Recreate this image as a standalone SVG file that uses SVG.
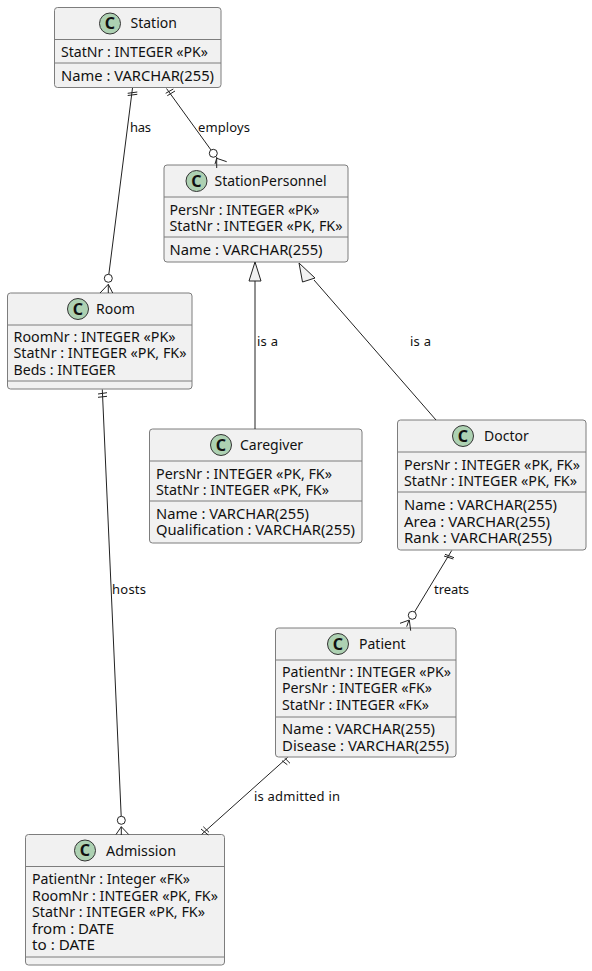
<svg xmlns="http://www.w3.org/2000/svg" width="592" height="971" viewBox="0 0 592 971">
<style>
text{font-family:"Noto Sans","Open Sans","DejaVu Sans",sans-serif;fill:#111}
.box{fill:#f1f1f1;stroke:#7d7d7d;stroke-width:1}
.sep{stroke:#7d7d7d;stroke-width:1}
.spot{fill:#add1b2;stroke:#333;stroke-width:1}
.c{font-size:16px;font-weight:700;text-anchor:middle}
.t{font-size:14px}
.f{font-size:14px}
.l{font-size:13px}
.cn{fill:none;stroke:#222;stroke-width:1}
.o{fill:#fff;stroke:#222;stroke-width:1}
.h{fill:#f1f1f1;stroke:#222;stroke-width:1}
</style>
<rect width="592" height="971" fill="#fff"/>
<g id="Station">
<rect class="box" x="54.500" y="7.500" width="166.500" height="80" rx="3"/>
<path class="sep" d="M54.500 39.500H221M54.500 63H221"/>
<circle class="spot" cx="110" cy="23.500" r="10.500"/>
<text class="c" x="110" y="29">C</text>
<text class="t" x="130.500" y="28">Station</text>
<text class="f" x="61" y="57" textLength="147" lengthAdjust="spacingAndGlyphs">StatNr : INTEGER «PK»</text>
<text class="f" x="61" y="81" textLength="153" lengthAdjust="spacingAndGlyphs">Name : VARCHAR(255)</text>
</g>
<g id="StationPersonnel">
<rect class="box" x="164" y="165" width="184" height="97" rx="3"/>
<path class="sep" d="M164 197H348M164 237H348"/>
<circle class="spot" cx="196.500" cy="181" r="10.500"/>
<text class="c" x="196.500" y="186.500">C</text>
<text class="t" x="214.500" y="186" textLength="112" lengthAdjust="spacingAndGlyphs">StationPersonnel</text>
<text class="f" x="169.500" y="215" textLength="150" lengthAdjust="spacingAndGlyphs">PersNr : INTEGER «PK»</text>
<text class="f" x="169.500" y="231" textLength="173" lengthAdjust="spacingAndGlyphs">StatNr : INTEGER «PK, FK»</text>
<text class="f" x="169.500" y="255" textLength="153" lengthAdjust="spacingAndGlyphs">Name : VARCHAR(255)</text>
</g>
<g id="Room">
<rect class="box" x="7.500" y="293" width="184.500" height="96" rx="3"/>
<path class="sep" d="M7.500 325H192M7.500 381H192"/>
<circle class="spot" cx="78" cy="309" r="10.500"/>
<text class="c" x="78" y="314.500">C</text>
<text class="t" x="96" y="314">Room</text>
<text class="f" x="13.500" y="342" textLength="162" lengthAdjust="spacingAndGlyphs">RoomNr : INTEGER «PK»</text>
<text class="f" x="13.500" y="358" textLength="173" lengthAdjust="spacingAndGlyphs">StatNr : INTEGER «PK, FK»</text>
<text class="f" x="13.500" y="375" textLength="102" lengthAdjust="spacingAndGlyphs">Beds : INTEGER</text>
</g>
<g id="Caregiver">
<rect class="box" x="149.500" y="429" width="212.500" height="114" rx="3"/>
<path class="sep" d="M149.500 461H362M149.500 501H362"/>
<circle class="spot" cx="221" cy="445" r="10.500"/>
<text class="c" x="221" y="450.500">C</text>
<text class="t" x="240" y="450">Caregiver</text>
<text class="f" x="156" y="479" textLength="176" lengthAdjust="spacingAndGlyphs">PersNr : INTEGER «PK, FK»</text>
<text class="f" x="156" y="495" textLength="173" lengthAdjust="spacingAndGlyphs">StatNr : INTEGER «PK, FK»</text>
<text class="f" x="156" y="519" textLength="153" lengthAdjust="spacingAndGlyphs">Name : VARCHAR(255)</text>
<text class="f" x="156" y="535" textLength="199" lengthAdjust="spacingAndGlyphs">Qualification : VARCHAR(255)</text>
</g>
<g id="Doctor">
<rect class="box" x="397.500" y="420" width="188.500" height="130" rx="3"/>
<path class="sep" d="M397.500 452H586M397.500 492H586"/>
<circle class="spot" cx="463" cy="436" r="10.500"/>
<text class="c" x="463" y="441.500">C</text>
<text class="t" x="484" y="441">Doctor</text>
<text class="f" x="404" y="470" textLength="176" lengthAdjust="spacingAndGlyphs">PersNr : INTEGER «PK, FK»</text>
<text class="f" x="404" y="486" textLength="173" lengthAdjust="spacingAndGlyphs">StatNr : INTEGER «PK, FK»</text>
<text class="f" x="404" y="510" textLength="153" lengthAdjust="spacingAndGlyphs">Name : VARCHAR(255)</text>
<text class="f" x="404" y="527" textLength="146" lengthAdjust="spacingAndGlyphs">Area : VARCHAR(255)</text>
<text class="f" x="404" y="543" textLength="148" lengthAdjust="spacingAndGlyphs">Rank : VARCHAR(255)</text>
</g>
<g id="Patient">
<rect class="box" x="275.500" y="628" width="180.500" height="129" rx="3"/>
<path class="sep" d="M275.500 660H456M275.500 717H456"/>
<circle class="spot" cx="338" cy="644" r="10.500"/>
<text class="c" x="338" y="649.500">C</text>
<text class="t" x="359" y="649">Patient</text>
<text class="f" x="282" y="677" textLength="169" lengthAdjust="spacingAndGlyphs">PatientNr : INTEGER «PK»</text>
<text class="f" x="282" y="693" textLength="150" lengthAdjust="spacingAndGlyphs">PersNr : INTEGER «FK»</text>
<text class="f" x="282" y="710" textLength="147" lengthAdjust="spacingAndGlyphs">StatNr : INTEGER «FK»</text>
<text class="f" x="282" y="734" textLength="153" lengthAdjust="spacingAndGlyphs">Name : VARCHAR(255)</text>
<text class="f" x="282" y="751" textLength="167" lengthAdjust="spacingAndGlyphs">Disease : VARCHAR(255)</text>
</g>
<g id="Admission">
<rect class="box" x="25.500" y="834.500" width="199" height="130.500" rx="3"/>
<path class="sep" d="M25.500 866.500H224.500M25.500 957H224.500"/>
<circle class="spot" cx="85" cy="850.500" r="10.500"/>
<text class="c" x="85" y="856">C</text>
<text class="t" x="106" y="856" textLength="70" lengthAdjust="spacingAndGlyphs">Admission</text>
<text class="f" x="32" y="884" textLength="158" lengthAdjust="spacingAndGlyphs">PatientNr : Integer «FK»</text>
<text class="f" x="32" y="901" textLength="186" lengthAdjust="spacingAndGlyphs">RoomNr : INTEGER «PK, FK»</text>
<text class="f" x="32" y="917" textLength="173" lengthAdjust="spacingAndGlyphs">StatNr : INTEGER «PK, FK»</text>
<text class="f" x="32" y="934" textLength="82" lengthAdjust="spacingAndGlyphs">from : DATE</text>
<text class="f" x="32" y="950" textLength="63" lengthAdjust="spacingAndGlyphs">to : DATE</text>
</g>
<g id="connectors">
<path class="cn" d="M132.500 88L108.800 274.500M127.700 93.300L137.300 92M127.700 95.500L137.300 94.300"/>
<circle class="o" cx="108.300" cy="278.300" r="4"/>
<path class="cn" d="M108.300 284.300V293M108.300 284.300L100 293M108.300 284.300L112.700 293"/>
<path class="cn" d="M166.500 88.500L211 150M165.700 93.300L173.300 89M167.300 95.700L175 91"/>
<circle class="o" cx="213.300" cy="153.300" r="4"/>
<path class="cn" d="M216.700 157V168M216.700 158.300L226.700 161.700M216.700 158.300L215 164"/>
<path class="cn" d="M255 281L255 429"/>
<polygon class="h" points="255,262 249,281 261,281"/>
<path class="cn" d="M314 280L436 420"/>
<polygon class="h" points="299,263 302.500,282 315,278"/>
<path class="cn" d="M102.300 389.500L121.200 816.300M98 394L107 392.700M98 397.300L107 396.300"/>
<circle class="o" cx="121.300" cy="820.300" r="4"/>
<path class="cn" d="M121.300 826.700V835M121.300 826.700L116 834.500M121.300 826.700L128.700 834.500"/>
<path class="cn" d="M451.700 550.500L414.500 612M445 554.300L454 557.700M444 556L453.300 559"/>
<circle class="o" cx="412.300" cy="615.300" r="4"/>
<path class="cn" d="M409.300 620L410.700 630.700M409.300 620L400 623.300M408.800 620.500L406.700 626.700"/>
<path class="cn" d="M287.500 757.500L201.700 834.300M282 760.700L287.300 764.700M285 758.300L290 763.300M201 829L208.300 835M203.300 826.700L209 832.300"/>
</g>
<g id="labels">
<text class="l" x="130" y="132" textLength="21">has</text>
<text class="l" x="198" y="132" textLength="52">employs</text>
<text class="l" x="257" y="346" textLength="21">is a</text>
<text class="l" x="410" y="346" textLength="21">is a</text>
<text class="l" x="112" y="594" textLength="34">hosts</text>
<text class="l" x="434" y="594" textLength="35">treats</text>
<text class="l" x="254" y="801" textLength="86">is admitted in</text>
</g>
</svg>
